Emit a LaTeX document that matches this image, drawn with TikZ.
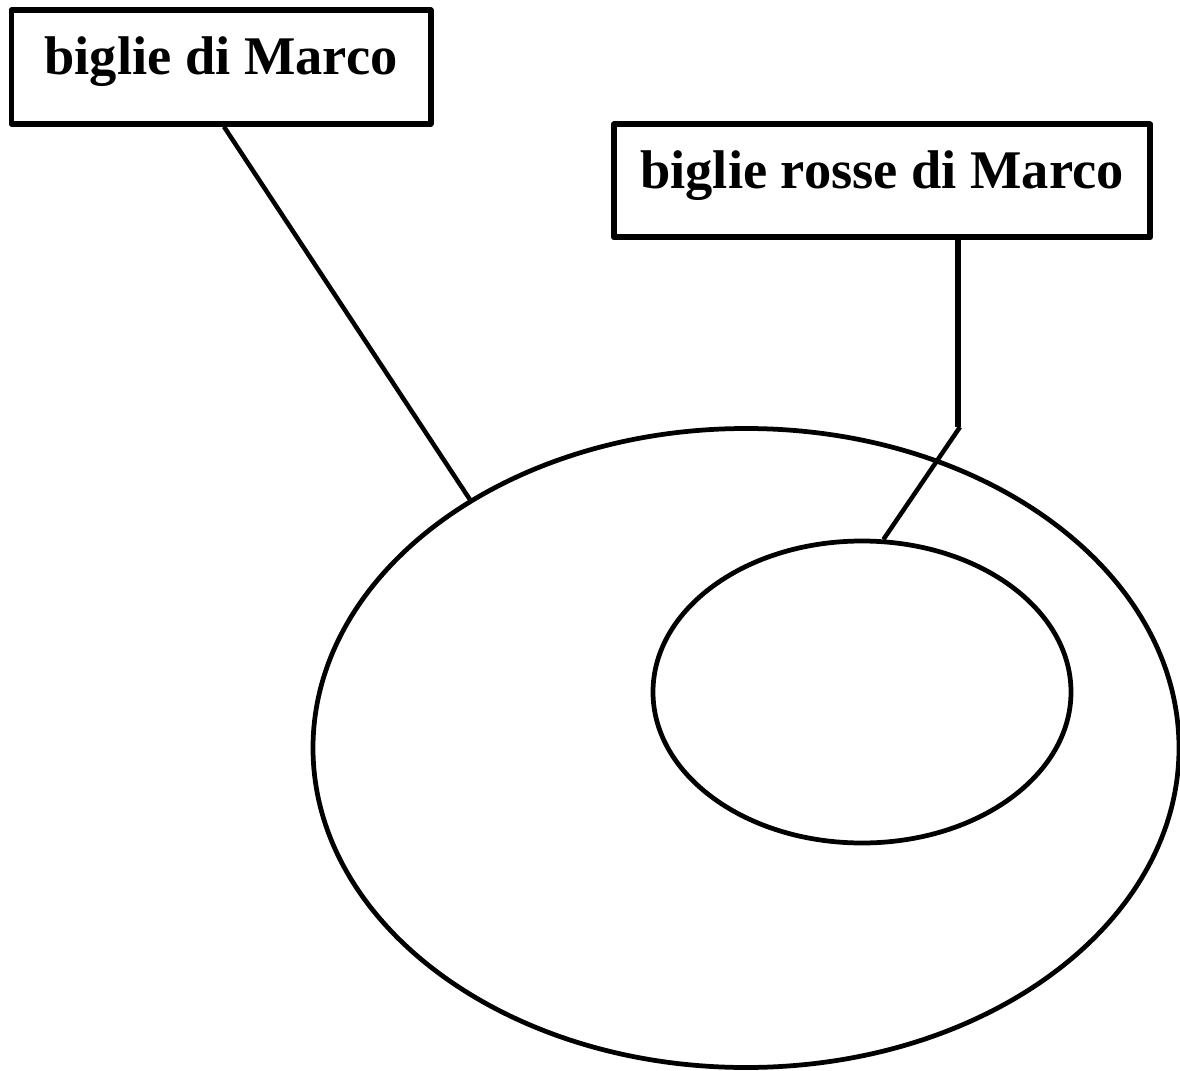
\documentclass[tikz,border=0pt]{standalone}
\usepackage{fontspec}
\setmainfont{Liberation Serif}
\usetikzlibrary{shapes.geometric}
\begin{document}
\begin{tikzpicture}[x=0.02cm,y=-0.02cm,
  labelbox/.style={draw,line width=0.12cm,line join=round,inner sep=0pt,
    text height=0.82cm,text depth=0.5cm,
    font=\fontsize{31}{37}\selectfont\bfseries},
  setellipse/.style={draw,ellipse,line width=0.095cm,inner sep=0pt},
  conn/.style={line width=0.09cm}]
\useasboundingbox (0,0) rectangle (1180,1071);
\node[labelbox,minimum width=419*0.02cm,minimum height=113.5*0.02cm] (box1) at (221,67) {biglie di Marco};
\node[labelbox,minimum width=536*0.02cm,minimum height=113*0.02cm] (box2) at (882,181) {biglie rosse di Marco};
\node[setellipse,minimum width=866*0.02cm,minimum height=639*0.02cm] (big) at (746,748) {};
\node[setellipse,minimum width=418*0.02cm,minimum height=302*0.02cm] (small) at (862,692) {};
\coordinate (k1) at (958,427);
\coordinate (k2) at (960,427);
\draw[conn] ([xshift=3*0.02cm]box1.south) -- (big.138.2);
\draw[conn,line width=0.13cm] (box2.south -| k1) -- (k1);
\draw[conn] (k2) -- (small.82.5);
\end{tikzpicture}
\end{document}
